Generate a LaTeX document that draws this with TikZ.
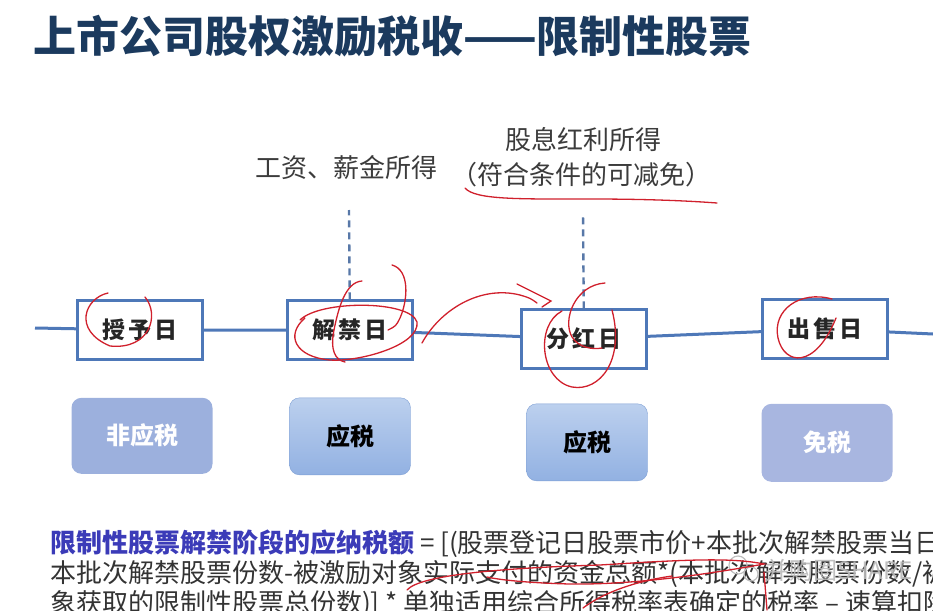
\documentclass[tikz,border=0pt]{standalone}
\usepackage{fontspec}
\usepackage{xcolor}
\usepackage{tikz}
\usetikzlibrary{positioning, backgrounds}
\newfontfamily\cjk{Noto Sans CJK SC}
\newfontfamily\cjkwide{Noto Sans CJK SC}[LetterSpace=12]
\definecolor{titleblue}{HTML}{1B3A5E}
\definecolor{lineblue}{HTML}{4E78B8}
\definecolor{dashblue}{HTML}{5878A8}
\definecolor{labelgray}{HTML}{3C3C3C}
\definecolor{taxlav}{HTML}{9CB0DD}
\definecolor{taxlavlight}{HTML}{A8B6E0}
\definecolor{taxtop}{HTML}{BCD0EE}
\definecolor{taxbot}{HTML}{92B1E2}
\definecolor{taxedge}{HTML}{7E9FD4}
\definecolor{formulablue}{HTML}{3B3BB8}
\definecolor{bodygray}{HTML}{333333}
\definecolor{inkred}{HTML}{D0202C}

\begin{document}
\begin{tikzpicture}[x=1pt, y=-1pt, node distance=36pt, every node/.style={font=\cjk, inner sep=0pt}]
    % Styles
    \tikzstyle{datebox} = [rectangle, draw=lineblue, line width=2.2pt, fill=white, minimum width=125pt, minimum height=59pt, font=\cjkwide\fontsize{23}{23}\selectfont\bfseries, text=black!85]
    \tikzstyle{taxbox} = [rectangle, rounded corners=10pt, minimum width=121pt, minimum height=77pt, font=\cjk\fontsize{24}{24}\selectfont\bfseries]
    \tikzstyle{income} = [font=\cjk\fontsize{26}{26}\selectfont, text=labelgray, align=center]
    \tikzstyle{formula} = [anchor=base west, font=\cjk\fontsize{26}{26}\selectfont, text=bodygray]
    \tikzstyle{guide} = [draw=dashblue, line width=2.4pt, dash pattern=on 7pt off 5pt]
    \tikzstyle{ink} = [draw=inkred, line width=1.3pt, line cap=round]

    \clip (0,0) rectangle (933,610);

    % Title
    \node[anchor=west, font=\cjk\fontsize{43}{43}\selectfont\bfseries, text=titleblue] (title) at (33,36) {上市公司股权激励税收——限制性股票};

    % Date boxes
    \node[datebox] (grant) at (140,330) {授予日};
    \node[datebox] (unlock) at (350,330) {解禁日};
    \node[datebox] (dividend) at (584,339) {分红日};
    \node[datebox] (sale) at (825,329) {出售日};

    % Timeline
    \coordinate (lstart) at (35,328);
    \coordinate (lend) at (933,334);
    \draw[lineblue, line width=3pt] (lstart) -- (grant) -- (unlock) -- (dividend) -- (sale) -- (lend);

    % Income labels
    \node[income] (wage) at (346,168) {工资、薪金所得};
    \node[income] (divinc) at (583,140) {股息红利所得};
    \node[income] (divnote) at (581,175) {（符合条件的可减免）};
    \coordinate (wagetop) at (349,210);
    \coordinate (divtop) at (583,213);
    \draw[guide] (unlock) -- (wagetop);
    \draw[guide] (dividend) -- (divtop);

    % Tax boxes
    \node[taxbox, fill=taxlav, text=white, minimum width=141pt, minimum height=76pt, below=37pt of grant, xshift=2pt] (nontax) {非应税};
    \node[taxbox, top color=taxtop, bottom color=taxbot, draw=taxedge, text=black, below=37pt of unlock] (taxa) {应税};
    \node[taxbox, top color=taxtop, bottom color=taxbot, draw=taxedge, text=black, below=34pt of dividend, xshift=3pt] (taxb) {应税};
    \node[taxbox, fill=taxlavlight, text=white, minimum width=131pt, minimum height=78pt, below=44pt of sale, xshift=2pt] (exempt) {免税};

    % Formula
    \node[formula] (fa) at (50,552) {\textcolor{formulablue}{\bfseries 限制性股票解禁阶段的应纳税额} = [(股票登记日股票市价+本批次解禁股票当日};
    \node[formula] (fb) at (50,582) {本批次解禁股票份数-被激励对象实际支付的资金总额*(本批次解禁股票份数/被};
    \node[formula] (fc) at (50,612) {象获取的限制性股票总份数)] * 单独适用综合所得税率表确定的税率 – 速算扣除};

    % Watermark
    \draw[gray!50, line width=1.2pt] (738,565) circle (9pt) (751,574) circle (7pt);
    \node[anchor=west, font=\cjk\fontsize{24}{24}\selectfont, text=gray!55, opacity=0.9] (mark) at (765,570) {并购圈SHARE};

    % Ink
    \draw[ink] (465,188) .. controls (475,200) and (520,199) .. (590,199) .. controls (650,199) and (690,201) .. (717,203);
    \draw[ink] (108,293) .. controls (85,298) and (72,330) .. (110,346) .. controls (150,350) and (160,315) .. (145,297);
    \draw[ink] (300,320) .. controls (320,300) and (410,300) .. (417,322) .. controls (420,345) and (360,362) .. (330,360) .. controls (295,357) and (285,335) .. (305,318);
    \draw[ink] (362,281) .. controls (345,282) and (338,310) .. (334,330) .. controls (330,350) and (335,360) .. (345,362);
    \draw[ink] (392,265) .. controls (410,270) and (408,300) .. (400,318) .. controls (396,326) .. (388,330);
    \draw[ink] (422,343) .. controls (440,310) and (480,285) .. (520,295) .. controls (530,298) .. (537,303);
    \draw[ink] (517,284) -- (551,301) -- (542,307);
    \draw[ink] (605,283) .. controls (575,285) and (562,320) .. (572,337) .. controls (578,347) and (592,350) .. (602,348);
    \draw[ink] (562,311) .. controls (535,325) and (540,380) .. (572,387) .. controls (600,392) and (625,360) .. (612,310);
    \draw[ink] (832,299) .. controls (800,290) and (772,310) .. (778,338) .. controls (784,365) and (815,370) .. (836,318);
    \draw[ink] (407,590) .. controls (420,575) and (500,568) .. (600,565) .. controls (680,560) and (730,557) .. (764,564) .. controls (720,572) and (640,585) .. (570,584) .. controls (530,583) and (500,580) .. (487,577);
    \draw[ink] (583,608) .. controls (600,595) and (630,582) .. (672,576);
    \draw[ink] (764,572) -- (767,610);
\end{tikzpicture}
\end{document}
